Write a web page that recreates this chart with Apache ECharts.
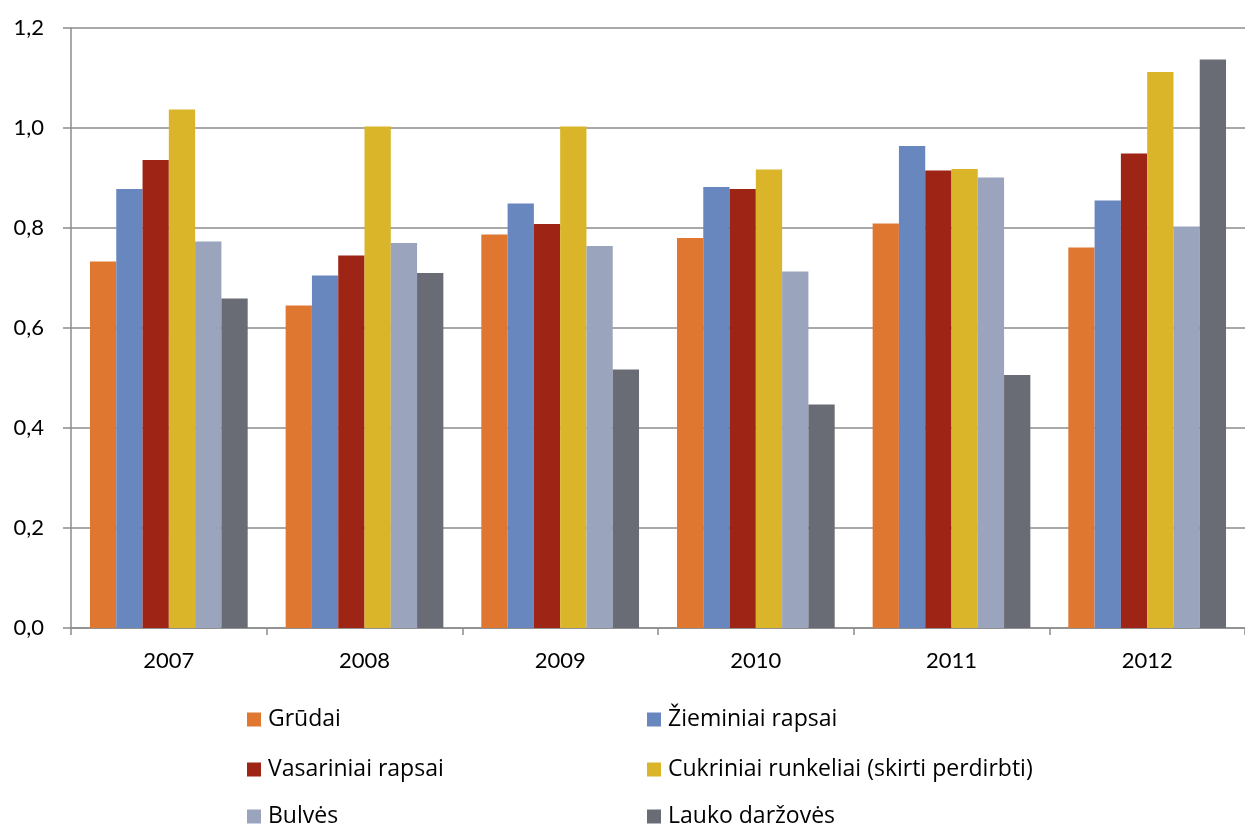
<!DOCTYPE html>
<html>
<head>
<meta charset="utf-8">
<script src="https://cdn.jsdelivr.net/npm/echarts@6/dist/echarts.min.js"></script>
<style>
html,body{margin:0;padding:0;background:#fff;}
#c{width:1245px;height:826px;}
</style>
</head>
<body>
<div id="c"></div>
<script>
const years = ['2007','2008','2009','2010','2011','2012'];
const seriesNames = ['Grūdai','Žieminiai rapsai','Vasariniai rapsai','Cukriniai runkeliai (skirti perdirbti)','Bulvės','Lauko daržovės'];
const grudai = [0.733, 0.645, 0.787, 0.780, 0.809, 0.761];
const ziemRapsai = [0.878, 0.705, 0.849, 0.882, 0.964, 0.855];
const vasRapsai = [0.936, 0.745, 0.808, 0.878, 0.915, 0.949];
const cukriniai = [1.037, 1.003, 1.003, 0.917, 0.918, 1.112];
const bulves = [0.773, 0.770, 0.764, 0.713, 0.901, 0.803];
const darzoves = [0.659, 0.710, 0.517, 0.447, 0.506, 1.137];
const yTicks = ['0,0','0,2','0,4','0,6','0,8','1,0','1,2'];
const colors = ['#E07731','#6887BE','#9E2515','#DAB529','#9AA4BD','#696C75'];

const values = [grudai, ziemRapsai, vasRapsai, cukriniai, bulves, darzoves];
const font = 'Lato, "Open Sans", sans-serif';
const legFont = '"Open Sans", Lato, sans-serif';

const legendPos = [[247,708],[647,708],[247,758],[647,758],[247,805],[647,805]];

const chart = echarts.init(document.getElementById('c'), null, {renderer:'canvas'});
chart.setOption({
  animation: false,
  color: colors,
  textStyle: {fontFamily: font},
  grid: {left: 71, right: 0, top: 28, bottom: 198, containLabel: false},
  legend: seriesNames.map(function (n, i) {
    return {
      left: legendPos[i][0], top: legendPos[i][1], padding: 0,
      data: [n],
      icon: 'rect', itemWidth: 14, itemHeight: 14,
      textStyle: {fontSize: 23, color: '#000', fontFamily: legFont, lineHeight: 20, padding: [0,0,0,2]}
    };
  }),
  xAxis: {
    type: 'category',
    data: years,
    axisLine: {lineStyle: {color: '#8c8c8c', width: 1.5}},
    axisTick: {show: true, length: 7, lineStyle: {color: '#8c8c8c', width: 1.5}},
    axisLabel: {fontSize: 22, color: '#000', margin: 22, fontFamily: font},
    splitLine: {show: false}
  },
  yAxis: {
    type: 'value',
    min: 0, max: 1.2, interval: 0.2,
    axisLine: {show: true, lineStyle: {color: '#8c8c8c', width: 1.5}},
    axisTick: {show: true, length: 8, lineStyle: {color: '#8c8c8c', width: 1.5}},
    axisLabel: {
      fontSize: 22, color: '#000', margin: 27, fontFamily: font,
      formatter: function (v) { return yTicks[Math.round(v / 0.2)]; }
    },
    splitLine: {show: true, lineStyle: {color: '#8c8c8c', width: 1.5}}
  },
  series: seriesNames.map(function (n, i) {
    return {
      name: n, type: 'bar', data: values[i],
      barGap: '0%', barCategoryGap: '19.4%',
      itemStyle: {color: colors[i]}
    };
  })
});
</script>
</body>
</html>
